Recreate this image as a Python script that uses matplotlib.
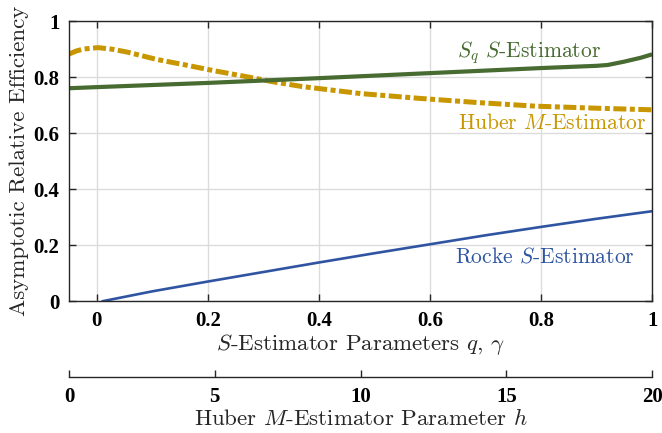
import numpy as np
import matplotlib
matplotlib.use("Agg")
import matplotlib.pyplot as plt

plt.rcParams['mathtext.fontset'] = 'cm'
plt.rcParams['font.family'] = 'serif'
plt.rcParams['font.serif'] = ['cmr10', 'DejaVu Serif']
plt.rcParams['axes.formatter.use_mathtext'] = True

# Huber M-estimator efficiency vs its parameter h
huber_h = [0, 0.25, 0.5, 1, 1.5, 2, 3, 4, 5, 6, 7, 8, 10, 12, 14, 16, 18, 20]
huber_eff = [0.882, 0.893, 0.900, 0.905, 0.899, 0.889, 0.863, 0.843, 0.822,
             0.803, 0.783, 0.766, 0.741, 0.724, 0.709, 0.696, 0.689, 0.683]

# Sq S-estimator efficiency vs q
sq_q = [-0.05, 0.0, 0.2, 0.4, 0.6, 0.8, 0.9, 0.92, 0.95, 0.98, 1.0]
sq_eff = [0.760, 0.764, 0.779, 0.796, 0.814, 0.832, 0.840, 0.843, 0.855, 0.869, 0.881]

# Rocke S-estimator efficiency vs gamma
rocke_g = [0.011, 0.1, 0.2, 0.3, 0.4, 0.5, 0.6, 0.7, 0.8, 0.9, 1.0]
rocke_eff = [0.0, 0.035, 0.070, 0.104, 0.138, 0.171, 0.203, 0.235, 0.265, 0.294, 0.321]

xticks = [0, 0.2, 0.4, 0.6, 0.8, 1]
yticks = [0, 0.2, 0.4, 0.6, 0.8, 1]
hticks = [0, 5, 10, 15, 20]

green = '#476b31'
gold = '#c89600'
blue = '#2f55a2'


def h2x(h):
    return -0.05 + np.asarray(h) * 1.05 / 20


def x2h(x):
    return (np.asarray(x) + 0.05) * 20 / 1.05


fig = plt.figure(figsize=(6.62, 4.33), dpi=100)
ax = fig.add_axes([0.1042, 0.3045, 0.8808, 0.647])

ax.plot(h2x(huber_h), huber_eff, color=gold, lw=3.6,
        linestyle=(0, (2.6, 0.7, 1.0, 0.7)))
ax.plot(sq_q, sq_eff, color=green, lw=3.0, solid_capstyle='butt')
ax.plot(rocke_g, rocke_eff, color=blue, lw=1.9)

ax.set_xlim(-0.05, 1)
ax.set_ylim(0, 1)
ax.set_xticks(xticks)
ax.set_yticks(yticks)
ax.set_xticklabels(['0', '0.2', '0.4', '0.6', '0.8', '1'],
                   family='Liberation Serif', weight='bold', fontsize=15)
ax.set_yticklabels(['0', '0.2', '0.4', '0.6', '0.8', '1'],
                   family='Liberation Serif', weight='bold', fontsize=15)
ax.grid(True, color='#dcdcdc', lw=1)
ax.set_axisbelow(True)
ax.tick_params(direction='in', length=5, width=1, color='#262626',
               top=True, right=True, pad=7)
for s in ax.spines.values():
    s.set_color('#262626')
    s.set_linewidth(1)

ax.set_xlabel(r'$S$-Estimator Parameters $q$, $\gamma$', fontsize=16.5,
              color='#262626', labelpad=1)
ax.set_ylabel('Asymptotic Relative Efficiency', fontsize=16.5,
              color='#262626', labelpad=3)

ax.text(0.908, 0.886, r'$S_q$ $S$-Estimator', color=green, fontsize=15.5,
        ha='right', va='center')
ax.text(0.989, 0.637, r'Huber $M$-Estimator', color=gold, fontsize=15.5,
        ha='right', va='center')
ax.text(0.969, 0.160, r'Rocke $S$-Estimator', color=blue, fontsize=15.5,
        ha='right', va='center')

sec = ax.secondary_xaxis(-0.27, functions=(x2h, h2x))
sec.set_xticks(hticks)
sec.set_xticklabels([str(t) for t in hticks], family='Liberation Serif',
                    weight='bold', fontsize=15)
sec.tick_params(direction='in', length=5, width=1, color='#262626', pad=7)
sec.spines['bottom'].set_color('#262626')
sec.spines['bottom'].set_linewidth(1)
sec.set_xlabel(r'Huber $M$-Estimator Parameter $h$', fontsize=16.5,
               color='#262626', labelpad=1)

fig.savefig('out.png', dpi=100)
